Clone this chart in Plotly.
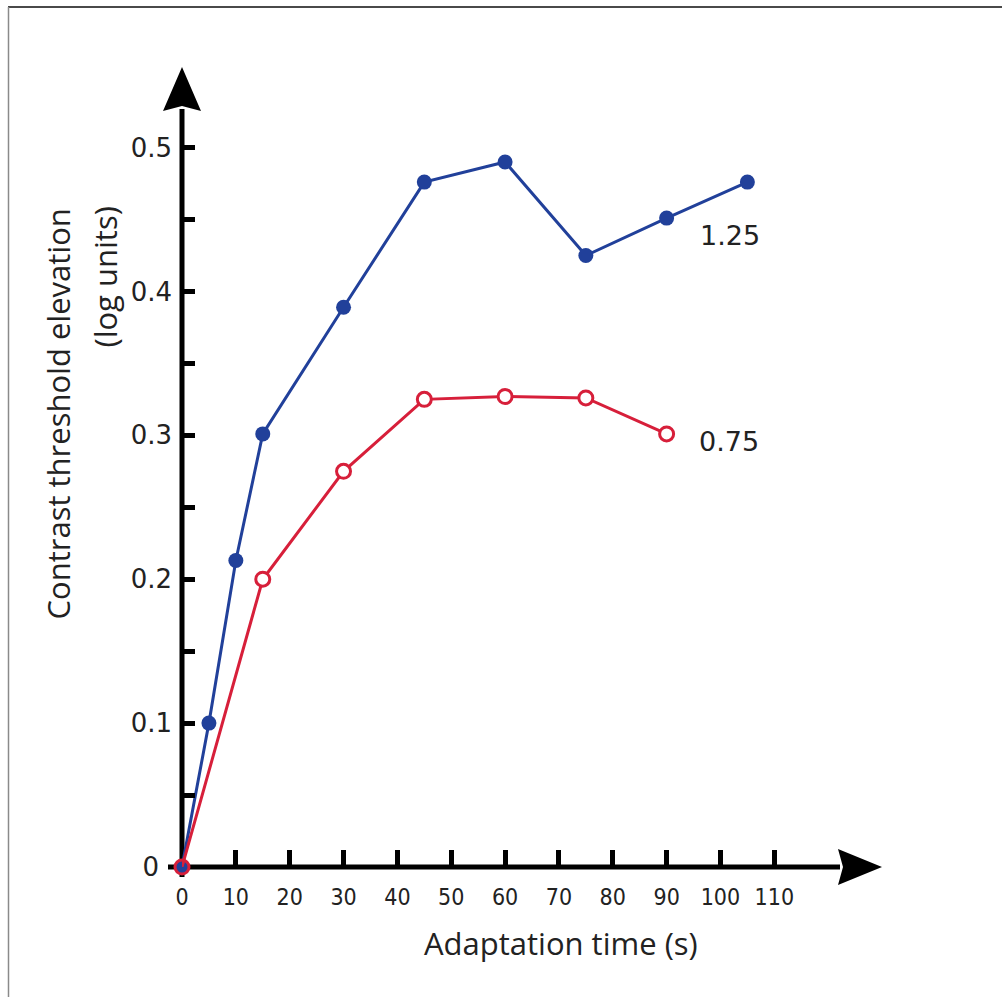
import plotly.graph_objects as go

# Adaptation time (s) and contrast threshold elevation (log units) for two adapting contrasts
series_names = ["1.25", "0.75"]
time_high = [0, 5, 10, 15, 30, 45, 60, 75, 90, 105]
elev_high = [0.0, 0.100, 0.213, 0.301, 0.389, 0.476, 0.490, 0.425, 0.451, 0.476]
time_low = [0, 15, 30, 45, 60, 75, 90]
elev_low = [0.0, 0.200, 0.275, 0.325, 0.327, 0.326, 0.301]

x_tickvals = [0, 10, 20, 30, 40, 50, 60, 70, 80, 90, 100, 110]
x_ticktext = ["0", "10", "20", "30", "40", "50", "60", "70", "80", "90", "100", "110"]
y_tickvals = [0, 0.05, 0.1, 0.15, 0.2, 0.25, 0.3, 0.35, 0.4, 0.45, 0.5]
y_ticktext = ["0\u2002", "", "0.1", "", "0.2", "", "0.3", "", "0.4", "", "0.5"]

x_title = "Adaptation time (s)"
y_title_lines = ["Contrast threshold elevation", "(log units)"]

BLUE = "#21409A"
RED = "#D71F3A"

# page geometry
W, H = 1002, 997
ML, MR, MT, MB = 182, 120, 67, 130
PW, PH = W - ML - MR, H - MT - MB
X_RANGE = [0, 130]
Y_RANGE = [0, 0.556]


def paper_x(px):
    return (px - ML) / PW


def paper_y(py):
    return (H - MB - py) / PH


def px_of_x(v):
    return ML + (v - X_RANGE[0]) / (X_RANGE[1] - X_RANGE[0]) * PW


def px_of_y(v):
    return H - MB - (v - Y_RANGE[0]) / (Y_RANGE[1] - Y_RANGE[0]) * PH


fig = go.Figure()

fig.add_trace(go.Scatter(
    x=time_high, y=elev_high, name=series_names[0], mode="lines+markers",
    line=dict(color=BLUE, width=3),
    marker=dict(symbol="circle", size=15, color=BLUE, line=dict(width=0)),
    cliponaxis=False, showlegend=False,
))

fill_low = ["rgba(255,255,255,0)"] + ["white"] * (len(time_low) - 1)
fig.add_trace(go.Scatter(
    x=time_low, y=elev_low, name=series_names[1], mode="lines+markers",
    line=dict(color=RED, width=3),
    marker=dict(symbol="circle", size=14, color=fill_low, line=dict(width=3, color=RED)),
    cliponaxis=False, showlegend=False,
))

# axis lines with arrowheads, placed in pixel terms through paper coordinates
ax_w = 5
ox, oy = px_of_x(0), px_of_y(0)           # origin in page pixels
x_tip_px, y_tip_px = px_of_x(X_RANGE[1]), px_of_y(Y_RANGE[1])
head_len, head_half_x, head_half_y = 44, 18, 19

shapes = [
    dict(type="line", xref="paper", yref="paper", layer="below",
         x0=paper_x(ox - 14), x1=paper_x(x_tip_px - head_len + 2),
         y0=paper_y(oy), y1=paper_y(oy),
         line=dict(color="black", width=ax_w)),
    dict(type="line", xref="paper", yref="paper", layer="below",
         x0=paper_x(ox), x1=paper_x(ox),
         y0=paper_y(oy + 10), y1=paper_y(y_tip_px + head_len - 2),
         line=dict(color="black", width=ax_w)),
    dict(type="path", xref="paper", yref="paper", layer="below",
         path=f"M {paper_x(x_tip_px)},{paper_y(oy)} "
              f"L {paper_x(x_tip_px - head_len)},{paper_y(oy - head_half_x)} "
              f"L {paper_x(x_tip_px - head_len + 5)},{paper_y(oy)} "
              f"L {paper_x(x_tip_px - head_len)},{paper_y(oy + head_half_x)} Z",
         fillcolor="black", line=dict(width=0)),
    dict(type="path", xref="paper", yref="paper", layer="below",
         path=f"M {paper_x(ox)},{paper_y(y_tip_px)} "
              f"L {paper_x(ox - head_half_y)},{paper_y(y_tip_px + head_len)} "
              f"L {paper_x(ox)},{paper_y(y_tip_px + head_len - 5)} "
              f"L {paper_x(ox + head_half_y)},{paper_y(y_tip_px + head_len)} Z",
         fillcolor="black", line=dict(width=0)),
    # frame edges of the figure panel
    dict(type="line", xref="paper", yref="paper", layer="above",
         x0=paper_x(8), x1=paper_x(W + 5), y0=paper_y(7), y1=paper_y(7),
         line=dict(color="#4a4a4a", width=2)),
    dict(type="line", xref="paper", yref="paper", layer="above",
         x0=paper_x(8.5), x1=paper_x(8.5), y0=paper_y(7), y1=paper_y(H + 5),
         line=dict(color="#8a8a8a", width=1.5)),
]

label_font = dict(family="DejaVu Sans, Verdana, sans-serif", size=27, color="#222222")
title_font = dict(family="Open Sans, sans-serif", size=31, color="#222222")

annotations = [
    dict(x=95.8, y=0.439, xref="x", yref="y", text=series_names[0], showarrow=False,
         xanchor="left", yanchor="middle", font=label_font),
    dict(x=95.6, y=0.2955, xref="x", yref="y", text=series_names[1], showarrow=False,
         xanchor="left", yanchor="middle", font=label_font),
    dict(x=paper_x(561), y=paper_y(943), xref="paper", yref="paper", text=x_title,
         showarrow=False, xanchor="center", yanchor="middle", font=title_font),
    dict(x=paper_x(57), y=paper_y(207), xref="paper", yref="paper", text=y_title_lines[0],
         showarrow=False, textangle=-90, xanchor="center", yanchor="top", font=title_font),
    dict(x=paper_x(104), y=paper_y(205), xref="paper", yref="paper", text=y_title_lines[1],
         showarrow=False, textangle=-90, xanchor="center", yanchor="top", font=title_font),
]

fig.update_layout(
    width=W, height=H,
    margin=dict(l=ML, r=MR, t=MT, b=MB, autoexpand=False),
    paper_bgcolor="white", plot_bgcolor="white",
    showlegend=False,
    shapes=shapes, annotations=annotations,
)

fig.update_xaxes(
    range=X_RANGE, tickmode="array", tickvals=x_tickvals, ticktext=x_ticktext,
    ticks="inside", ticklen=17, tickwidth=4.5, tickcolor="black",
    ticklabelstandoff=14,
    tickfont=dict(family="DejaVu Sans Condensed, DejaVu Sans, sans-serif", size=23, color="#222222"),
    showline=False, showgrid=False, zeroline=False, fixedrange=True,
)
fig.update_yaxes(
    range=Y_RANGE, tickmode="array", tickvals=y_tickvals, ticktext=y_ticktext,
    ticks="inside", ticklen=13, tickwidth=4.5, tickcolor="black",
    ticklabelstandoff=9,
    tickfont=dict(family="DejaVu Sans, Verdana, sans-serif", size=26, color="#222222"),
    showline=False, showgrid=False, zeroline=False, fixedrange=True,
)

fig.write_html("out.html")
